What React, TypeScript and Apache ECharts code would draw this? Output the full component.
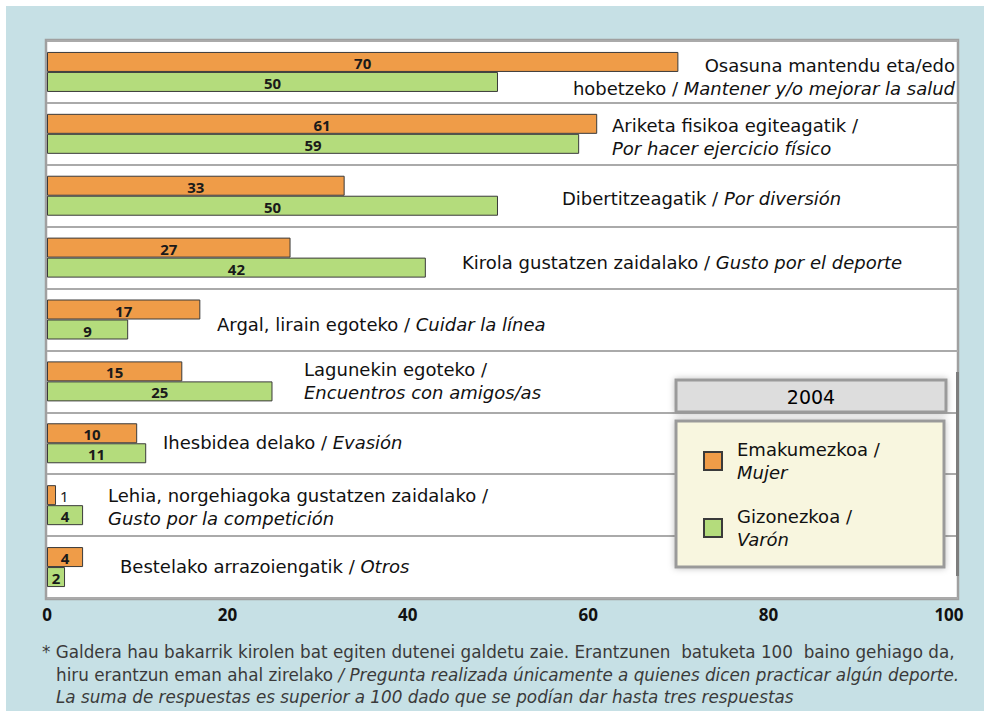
import React, { useEffect, useRef } from "react";
import * as echarts from "echarts";

// ---------- data ----------
const categories = [
  "Osasuna",
  "Ariketa",
  "Dibertitzeagatik",
  "Kirola",
  "Argal",
  "Lagunekin",
  "Ihesbidea",
  "Lehia",
  "Bestelako",
];
const womenValues = [70, 61, 33, 27, 17, 15, 10, 1, 4];
const menValues = [50, 59, 50, 42, 9, 25, 11, 4, 2];
const seriesNames = ["Emakumezkoa", "Gizonezkoa"];
const seriesNamesEs = ["Mujer", "Varón"];
const xTicks = [0, 20, 40, 60, 80, 100];
const legendTitle = "2004";

// category label texts (rich: {i|...} is italic)
const categoryLabels = [
  "Osasuna mantendu eta/edo\nhobetzeko / {i|Mantener y/o mejorar la salud}",
  "Ariketa fisikoa egiteagatik /\n{i|Por hacer ejercicio físico}",
  "Dibertitzeagatik / {i|Por diversión}",
  "Kirola gustatzen zaidalako / {i|Gusto por el deporte}",
  "Argal, lirain egoteko / {i|Cuidar la línea}",
  "Lagunekin egoteko /\n{i|Encuentros con amigos/as}",
  "Ihesbidea delako / {i|Evasión}",
  "Lehia, norgehiagoka gustatzen zaidalako /\n{i|Gusto por la competición}",
  "Bestelako arrazoiengatik / {i|Otros}",
];

const footnoteLines = [
  "* Galdera hau bakarrik kirolen bat egiten dutenei galdetu zaie. Erantzunen  batuketa 100  baino gehiago da,",
  "hiru erantzun eman ahal zirelako {i|/ Pregunta realizada únicamente a quienes dicen practicar algún deporte.}",
  "{i|La suma de respuestas es superior a 100 dado que se podían dar hasta tres respuestas}",
];

// ---------- layout ----------
const W = 984;
const H = 717;
const GRID_LEFT = 47;
const GRID_RIGHT_X = 958;
const GRID_TOP = 41;
const GRID_BOTTOM_Y = 598;
const AXIS_MAX = 101;
const ROW_H = (GRID_BOTTOM_Y - GRID_TOP) / categories.length;

// label anchors: [x, align, dy]
const labelAnchors: [number, "left" | "right", number][] = [
  [955, "right", 5],
  [612, "left", 3],
  [562, "left", 3],
  [462, "left", 5],
  [217, "left", 5],
  [304, "left", 0],
  [163, "left", -1],
  [108, "left", 2],
  [120, "left", -1],
];

const FONT = "DejaVu Sans";
const NUM_FONT = "Noto Sans";
const ORANGE = "#ef9c48";
const GREEN = "#b4dc7c";
const BLUE_BG = "#c6e0e5";
const GRAY = "#a0a0a0";

export default function App() {
  const ref = useRef<HTMLDivElement>(null);

  useEffect(() => {
    if (!ref.current) return;
    const chart = echarts.init(ref.current, null, { renderer: "svg" });

    const italicRich = (size: number, lh: number, color: string) => ({
      i: { fontStyle: "italic", fontFamily: FONT, fontSize: size, lineHeight: lh, color },
    });

    const catTexts = categoryLabels.map((t, idx) => {
      const [x, align, dy] = labelAnchors[idx];
      return {
        type: "text",
        z: 50,
        x,
        y: GRID_TOP + ROW_H * (idx + 0.5) + dy,
        style: {
          text: t,
          fontFamily: FONT,
          fontSize: 18,
          lineHeight: 23,
          fill: "#111",
          align,
          verticalAlign: "middle",
          rich: italicRich(18, 23, "#111"),
        },
      };
    });

    const footTexts = footnoteLines.map((t, idx) => ({
      type: "text",
      z: 50,
      x: idx === 0 ? 42 : 56,
      y: 652 + idx * 22.5,
      style: {
        text: t,
        fontFamily: FONT,
        fontSize: 16.8,
        fill: "#3a3a3a",
        align: "left",
        verticalAlign: "middle",
        rich: italicRich(16.8, 20, "#3a3a3a"),
      },
    }));

    const barLabel = (v: number) =>
      v <= 1
        ? { show: true, position: "right", distance: 4, fontWeight: "normal" }
        : { show: true, position: "inside" };

    const makeSeries = (name: string, values: number[], color: string) => ({
      name,
      type: "bar",
      barWidth: 20,
      barGap: "0%",
      data: values.map((v) => ({ value: v, label: barLabel(v) })),
      itemStyle: { color, borderColor: "#3a3a3a", borderWidth: 1 },
      label: {
        show: true,
        position: "inside",
        fontFamily: NUM_FONT,
        fontWeight: "bold",
        fontSize: 15,
        lineHeight: 15,
        color: "#1a1a1a",
        offset: [0, 1],
      },
      emphasis: { disabled: true },
    });

    const option: any = {
      animation: false,
      backgroundColor: "#ffffff",
      grid: {
        left: GRID_LEFT,
        right: W - GRID_RIGHT_X,
        top: GRID_TOP,
        bottom: H - GRID_BOTTOM_Y,
        containLabel: false,
      },
      xAxis: {
        type: "value",
        min: 0,
        max: AXIS_MAX,
        interval: 20,
        axisLine: { show: false },
        axisTick: { show: false },
        splitLine: { show: false },
        axisLabel: {
          margin: 8,
          fontFamily: NUM_FONT,
          fontWeight: "bold",
          fontSize: 17,
          color: "#111",
          showMaxLabel: true,
          formatter: (v: number) => (xTicks.indexOf(v) >= 0 ? String(v) : ""),
        },
      },
      yAxis: {
        type: "category",
        inverse: true,
        data: categories,
        axisLine: { show: false },
        axisTick: { show: false },
        axisLabel: { show: false },
        splitLine: { show: true, lineStyle: { color: "#aaaaaa", width: 2 } },
      },
      legend: {
        orient: "vertical",
        left: 698,
        top: 433,
        itemWidth: 18,
        itemHeight: 18,
        itemGap: 21,
        icon: "rect",
        z: 60,
        selectedMode: false,
        data: seriesNames,
        formatter: (name: string) => {
          const i = seriesNames.indexOf(name);
          return `${name} /\n{i|${seriesNamesEs[i]}}`;
        },
        textStyle: {
          fontFamily: FONT,
          fontSize: 18,
          lineHeight: 23,
          color: "#111",
          padding: [0, 0, 0, 10],
          rich: italicRich(18, 23, "#111"),
        },
      },
      graphic: [
        {
          type: "rect",
          z: -20,
          shape: { x: 6, y: 6, width: W - 6, height: 705 },
          style: { fill: BLUE_BG },
        },
        {
          type: "rect",
          z: -10,
          shape: { x: 46, y: 40, width: GRID_RIGHT_X - 46, height: GRID_BOTTOM_Y - 40 + 1 },
          style: { fill: "#ffffff", stroke: GRAY, lineWidth: 2.5 },
        },
        {
          type: "line",
          z: 40,
          shape: { x1: 957.5, y1: 372, x2: 957.5, y2: 576 },
          style: { stroke: "#7d7d7d", lineWidth: 3 },
        },
        {
          type: "rect",
          z: 45,
          shape: { x: 676, y: 380, width: 270, height: 32 },
          style: {
            fill: "#dddddd",
            stroke: "#9a9a9a",
            lineWidth: 3,
            shadowBlur: 6,
            shadowColor: "rgba(0,0,0,0.25)",
          },
        },
        {
          type: "text",
          z: 46,
          x: 811,
          y: 397,
          style: {
            text: legendTitle,
            fontFamily: FONT,
            fontSize: 19,
            fill: "#000",
            align: "center",
            verticalAlign: "middle",
          },
        },
        {
          type: "rect",
          z: 45,
          shape: { x: 676, y: 421, width: 268, height: 146 },
          style: {
            fill: "#f8f6df",
            stroke: "#9a9a9a",
            lineWidth: 3,
            shadowBlur: 6,
            shadowColor: "rgba(0,0,0,0.25)",
          },
        },
        ...catTexts,
        ...footTexts,
      ],
      series: [
        makeSeries(seriesNames[0], womenValues, ORANGE),
        makeSeries(seriesNames[1], menValues, GREEN),
      ],
    };

    chart.setOption(option);
    return () => chart.dispose();
  }, []);

  return (
    <div
      ref={ref}
      style={{ position: "absolute", left: 0, top: 0, width: W, height: H }}
    />
  );
}
